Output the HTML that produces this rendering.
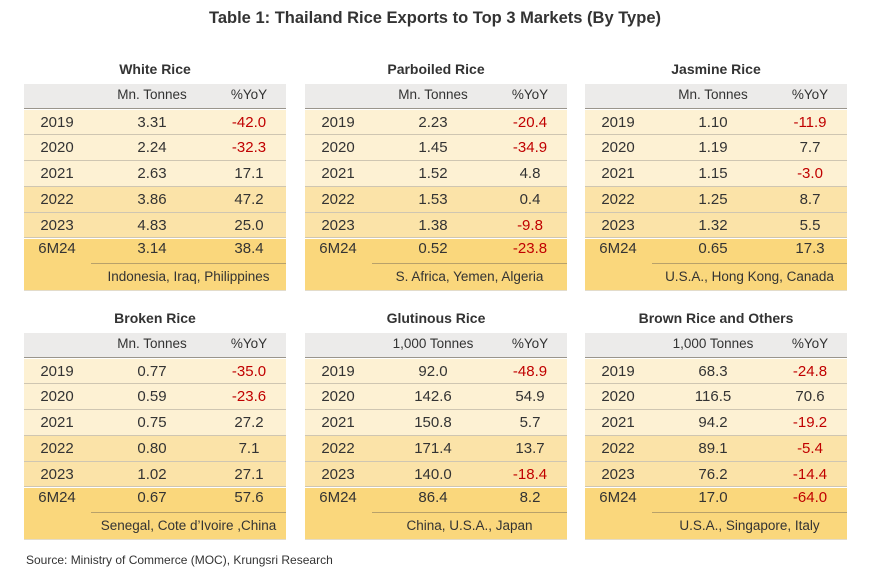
<!DOCTYPE html>
<html><head><meta charset="utf-8"><style>
body{margin:0;width:870px;height:578px;background:#fff;font-family:"Liberation Sans",sans-serif;color:#333;position:relative;overflow:hidden}
.abs{position:absolute}
.title{left:0;width:870px;top:9px;text-align:center;font-weight:bold;font-size:16.5px;color:#333}
.tt{font-weight:bold;font-size:14px;text-align:center}
.cell{position:absolute;font-size:15px;text-align:center;line-height:26px}
.neg{color:#c00000}
</style></head><body>
<div class="abs title">Table 1: Thailand Rice Exports to Top 3 Markets (By Type)</div>
<div class="abs" style="left:26px;top:553px;font-size:12px">Source: Ministry of Commerce (MOC), Krungsri Research</div>
<div id="root"></div>
<script>
const titles=["White Rice","Parboiled Rice","Jasmine Rice","Broken Rice","Glutinous Rice","Brown Rice and Others"];
const units=["Mn. Tonnes","Mn. Tonnes","Mn. Tonnes","Mn. Tonnes","1,000 Tonnes","1,000 Tonnes"];
const years=["2019","2020","2021","2022","2023","6M24"];
const volumes=[["3.31","2.24","2.63","3.86","4.83","3.14"],["2.23","1.45","1.52","1.53","1.38","0.52"],["1.10","1.19","1.15","1.25","1.32","0.65"],["0.77","0.59","0.75","0.80","1.02","0.67"],["92.0","142.6","150.8","171.4","140.0","86.4"],["68.3","116.5","94.2","89.1","76.2","17.0"]];
const yoy=[["-42.0","-32.3","17.1","47.2","25.0","38.4"],["-20.4","-34.9","4.8","0.4","-9.8","-23.8"],["-11.9","7.7","-3.0","8.7","5.5","17.3"],["-35.0","-23.6","27.2","7.1","27.1","57.6"],["-48.9","54.9","5.7","13.7","-18.4","8.2"],["-24.8","70.6","-19.2","-5.4","-14.4","-64.0"]];
const markets=["Indonesia, Iraq, Philippines","S. Africa, Yemen, Algeria","U.S.A., Hong Kong, Canada","Senegal, Cote d\u2019Ivoire ,China","China, U.S.A., Japan","U.S.A., Singapore, Italy"];
const root=document.getElementById('root');
const xs=[24,305,585],ys=[84,333],W=262,RH=25.8,HH=24;
const bgs=["#fdf1d3","#fdf1d3","#fdf1d3","#fbe3a8","#fbe3a8","#fad77c"];
function mk(cls,css,txt){const d=document.createElement('div');d.className=cls;d.style.cssText=css;if(txt!=null)d.textContent=txt;root.appendChild(d);return d;}
titles.forEach((t,i)=>{
 const x=xs[i%3],y=ys[Math.floor(i/3)];
 const g=mk('abs','left:'+x+'px;top:'+(y-HH-2)+'px;width:'+W+'px;height:'+(HH+8+RH*7)+'px');
 
 
 const tt=mk('abs tt','left:'+x+'px;top:'+(y-23)+'px;width:'+W+'px',t);
 
 
 const hd=mk('abs','left:'+x+'px;top:'+y+'px;width:'+W+'px;height:'+HH+'px;background:#ecebea;border-bottom:1.5px solid #9a958c');
 
 
 const u=mk('cell','left:'+(x+78)+'px;width:100px;top:'+(y-1)+'px;font-size:13.5px;line-height:24px',units[i]);
 
 
 const p=mk('cell','left:'+(x+195)+'px;width:60px;top:'+(y-1)+'px;font-size:13.5px;line-height:24px','%YoY');
 
 
 const y0=y+HH+1.5;
 years.forEach((yr,r)=>{
  const ry=y0+r*RH;
  const row=mk('abs','left:'+x+'px;top:'+ry+'px;width:'+W+'px;height:'+RH+'px;background:'+bgs[r]+';'+(r<5?'box-shadow:inset 0 -1px 0 #cfc6b2':''));
  
  
  const off=r==5?-3:0;
  const a=mk('cell','left:'+(x+3)+'px;width:60px;top:'+(ry+off)+'px',yr);
  
  
  const b=mk('cell','left:'+(x+78)+'px;width:100px;top:'+(ry+off)+'px',volumes[i][r]);
  
  
  const c=mk('cell'+(yoy[i][r][0]=='-'?' neg':''),'left:'+(x+195)+'px;width:60px;top:'+(ry+off)+'px',yoy[i][r]);
  
  
 });
 const my=y0+6*RH;
 const m=mk('abs','left:'+x+'px;top:'+my+'px;width:'+W+'px;height:'+RH+'px;background:#fad77c;border-bottom:1.5px solid #e3dccb');
 
 
 const ln=mk('abs','left:'+(x+67)+'px;top:'+(my-1)+'px;width:'+(W-67)+'px;height:1px;background:#b8a16a');
 
 
 const mt=mk('cell','left:'+(x+67)+'px;width:'+(W-67)+'px;top:'+my+'px;font-size:13.5px',markets[i]);
 
 
});
</script>
</body></html>
